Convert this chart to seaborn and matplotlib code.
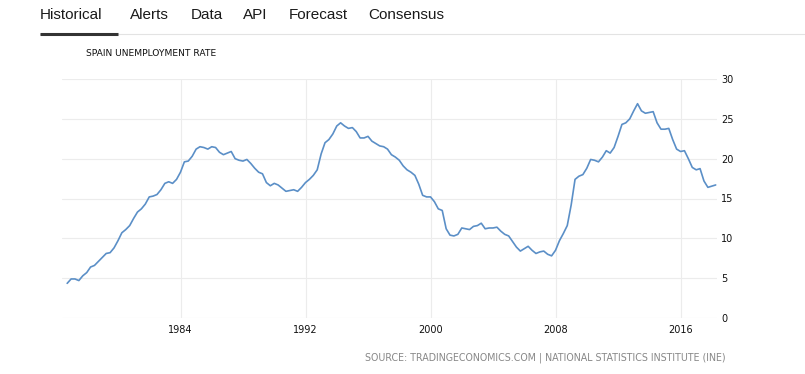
import matplotlib.pyplot as plt
import matplotlib.dates as mdates
from matplotlib.lines import Line2D
import pandas as pd
import seaborn as sns

# quarterly unemployment rate, 1976Q3 .. 2018Q1
quarters = pd.period_range("1976Q3", "2018Q1", freq="Q")
rate = [
    4.35, 4.9,
    4.9, 4.7, 5.3, 5.7,        # 1977
    6.4, 6.6, 7.1, 7.6,        # 1978
    8.1, 8.2, 8.8, 9.7,        # 1979
    10.7, 11.1, 11.6, 12.5,    # 1980
    13.3, 13.7, 14.3, 15.2,    # 1981
    15.3, 15.5, 16.1, 16.9,    # 1982
    17.1, 16.9, 17.4, 18.3,    # 1983
    19.6, 19.7, 20.3, 21.2,    # 1984
    21.5, 21.4, 21.2, 21.5,    # 1985
    21.4, 20.8, 20.5, 20.7,    # 1986
    20.9, 20.0, 19.8, 19.7,    # 1987
    19.9, 19.4, 18.8, 18.3,    # 1988
    18.1, 17.0, 16.6, 16.9,    # 1989
    16.7, 16.3, 15.9, 16.0,    # 1990
    16.1, 15.9, 16.4, 17.0,    # 1991
    17.4, 17.9, 18.6, 20.6,    # 1992
    22.0, 22.4, 23.1, 24.1,    # 1993
    24.5, 24.1, 23.8, 23.9,    # 1994
    23.4, 22.6, 22.6, 22.8,    # 1995
    22.2, 21.9, 21.6, 21.5,    # 1996
    21.2, 20.5, 20.2, 19.8,    # 1997
    19.1, 18.6, 18.3, 17.9,    # 1998
    16.8, 15.4, 15.2, 15.2,    # 1999
    14.6, 13.7, 13.5, 11.2,    # 2000
    10.4, 10.3, 10.5, 11.3,    # 2001
    11.2, 11.1, 11.5, 11.6,    # 2002
    11.9, 11.2, 11.3, 11.3,    # 2003
    11.4, 10.9, 10.5, 10.3,    # 2004
    9.6, 8.9, 8.4, 8.7,        # 2005
    9.0, 8.5, 8.1, 8.3,        # 2006
    8.4, 8.0, 7.8, 8.5,        # 2007
    9.7, 10.6, 11.6, 14.2,     # 2008
    17.4, 17.8, 18.0, 18.8,    # 2009
    19.9, 19.8, 19.6, 20.2,    # 2010
    21.0, 20.7, 21.4, 22.8,    # 2011
    24.3, 24.5, 25.0, 26.0,    # 2012
    26.9, 26.0, 25.7, 25.8,    # 2013
    25.9, 24.5, 23.7, 23.7,    # 2014
    23.8, 22.4, 21.2, 20.9,    # 2015
    21.0, 20.0, 18.9, 18.6,    # 2016
    18.75, 17.2, 16.4, 16.55,  # 2017
    16.7,                      # 2018
]
tabs = ["Historical", "Alerts", "Data", "API", "Forecast", "Consensus"]
tab_x = [40, 130, 191, 243, 289, 368]

df = pd.DataFrame({"date": quarters.to_timestamp(how="end").normalize(), "rate": rate})

sns.set_theme(style="whitegrid")
plt.rcParams["font.family"] = ["DejaVu Sans"]

W, H = 805, 374
fig = plt.figure(figsize=(W / 100, H / 100), dpi=100)
ax = fig.add_axes([62 / W, 1 - 318 / H, (717 - 62) / W, (318 - 79) / H])

sns.lineplot(data=df, x="date", y="rate", ax=ax, color="#5b8fc7", linewidth=1.2)

ax.set_ylim(0, 30)
ax.set_yticks([0, 5, 10, 15, 20, 25, 30])
ax.set_xlim(pd.Timestamp("1976-06-01"), pd.Timestamp("2018-05-01"))
ax.xaxis.set_major_locator(mdates.YearLocator(8))
ax.xaxis.set_major_formatter(mdates.DateFormatter("%Y"))
ax.set_xlabel("")
ax.set_ylabel("")
ax.yaxis.tick_right()
ax.tick_params(axis="both", length=0, labelsize=7, colors="#111111")
ax.tick_params(axis="y", pad=3)
ax.tick_params(axis="x", pad=5)
ax.grid(True, color="#ececec", linewidth=0.8)
for s in ax.spines.values():
    s.set_visible(False)

# tab bar
for t, x in zip(tabs, tab_x):
    fig.text(x / W, 1 - 15 / H, t, fontsize=11, color="#1a1a1a", va="center", ha="left",
             family=["Liberation Sans", "DejaVu Sans"])
fig.add_artist(Line2D([40 / W, 1], [1 - 34 / H, 1 - 34 / H], color="#e3e3e3", linewidth=0.8))
fig.add_artist(Line2D([40 / W, 118 / W], [1 - 33.5 / H, 1 - 33.5 / H], color="#333333", linewidth=2.2,
                      solid_capstyle="butt"))

fig.text(86 / W, 1 - 54 / H, "SPAIN UNEMPLOYMENT RATE", fontsize=6.6, color="#111111", va="center")
fig.text(726 / W, 1 - 358 / H, "SOURCE: TRADINGECONOMICS.COM | NATIONAL STATISTICS INSTITUTE (INE)",
         fontsize=6.85, color="#888888", va="center", ha="right")

fig.savefig("out.png", dpi=100)
